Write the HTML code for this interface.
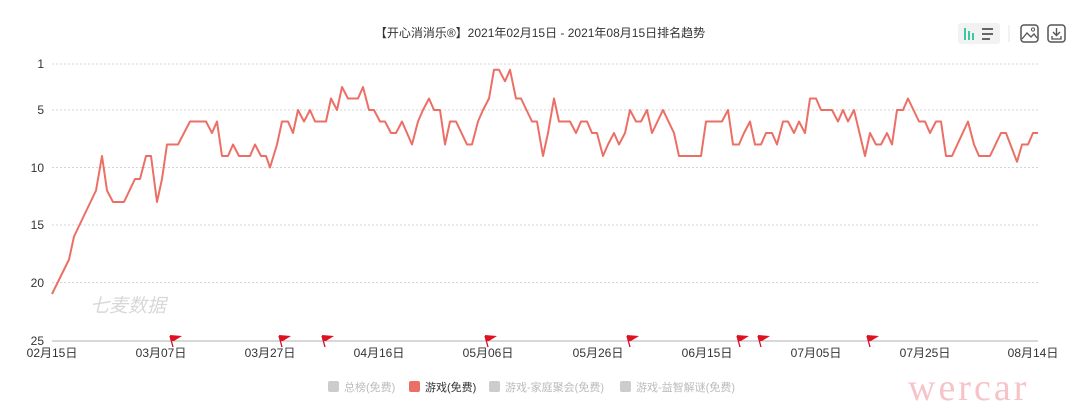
<!DOCTYPE html>
<html><head><meta charset="utf-8"><style>
body{margin:0;background:#fff;width:1080px;height:414px;overflow:hidden;font-family:"Liberation Sans","Noto Sans CJK SC",sans-serif}
</style></head><body>
<svg width="1080" height="414" xmlns="http://www.w3.org/2000/svg" font-family="Liberation Sans, Noto Sans CJK SC, sans-serif">
<text x="540" y="37" font-size="12" fill="#333" text-anchor="middle">【开心消消乐®】2021年02月15日 - 2021年08月15日排名趋势</text>
<rect x="958" y="23" width="42" height="21" rx="3" fill="#f2f2f2"/>
<rect x="964" y="28" width="2" height="12" fill="#3cc8a0"/><rect x="968" y="31" width="2" height="9" fill="#3cc8a0"/><rect x="972" y="33" width="2" height="7" fill="#3cc8a0"/>
<rect x="982" y="28" width="11" height="2" fill="#666"/><rect x="982" y="33" width="11" height="2" fill="#666"/><rect x="982" y="38" width="8" height="2" fill="#666"/>
<line x1="1009" y1="25" x2="1009" y2="42" stroke="#e4e4e4"/>
<rect x="1021" y="25" width="17" height="17" rx="3" fill="none" stroke="#555" stroke-width="1.5"/>
<polyline points="1022,39 1027,33 1031,37 1034,34 1037,38" fill="none" stroke="#555" stroke-width="1.3"/><circle cx="1033" cy="29.5" r="1.6" fill="none" stroke="#555"/>
<rect x="1048" y="25" width="17" height="17" rx="3" fill="none" stroke="#555" stroke-width="1.5"/>
<polyline points="1056.5,28 1056.5,35 M1053,32" fill="none" stroke="#555" stroke-width="1.4"/><polyline points="1053,32 1056.5,35.5 1060,32" fill="none" stroke="#555" stroke-width="1.4"/><polyline points="1052,36 1052,39 1061,39 1061,36" fill="none" stroke="#555" stroke-width="1.3"/>
<g stroke="#d4d4d4" stroke-dasharray="2,2" stroke-width="1">
<line x1="52" y1="64" x2="1038" y2="64"/><line x1="52" y1="110" x2="1038" y2="110"/><line x1="52" y1="167.5" x2="1038" y2="167.5"/><line x1="52" y1="225" x2="1038" y2="225"/><line x1="52" y1="282.5" x2="1038" y2="282.5"/>
</g>
<line x1="52" y1="341" x2="1038" y2="341" stroke="#ccc" stroke-width="1.5"/>
<g font-size="12" fill="#333" text-anchor="end">
<text x="44" y="68">1</text><text x="44" y="114">5</text><text x="44" y="172">10</text><text x="44" y="229">15</text><text x="44" y="287">20</text><text x="44" y="345">25</text>
</g>
<g font-size="12" fill="#333" text-anchor="middle">
<text x="52" y="357">02月15日</text><text x="161" y="357">03月07日</text><text x="270" y="357">03月27日</text><text x="379" y="357">04月16日</text><text x="488" y="357">05月06日</text><text x="598" y="357">05月26日</text><text x="707" y="357">06月15日</text><text x="816" y="357">07月05日</text><text x="925" y="357">07月25日</text><text x="1033" y="357">08月14日</text>
</g>
<text x="90" y="312" font-size="19" fill="#d8d8d8" font-style="italic">七麦数据</text>
<polyline id="ln" fill="none" stroke="#ec6f66" stroke-width="2" stroke-linejoin="round"/>
<g id="fl"></g>
<g font-size="11" fill="#bbb">
<rect x="328" y="381" width="11" height="11" rx="2" fill="#ccc"/><text x="344" y="391">总榜(免费)</text>
<rect x="409" y="381" width="11" height="11" rx="2" fill="#ec6f66"/><text x="425" y="391" fill="#333">游戏(免费)</text>
<rect x="489" y="381" width="11" height="11" rx="2" fill="#ccc"/><text x="505" y="391">游戏-家庭聚会(免费)</text>
<rect x="620" y="381" width="11" height="11" rx="2" fill="#ccc"/><text x="636" y="391">游戏-益智解谜(免费)</text>
</g>
<text x="908" y="400" font-size="38" fill="#f6c4c8" font-family="Liberation Serif, serif" letter-spacing="3">wercar</text>
</svg>
<script>
var d=[[52,21],[69,18],[74,16],[85,14],[96,12],[102,9],[107,12],[113,13],[124,13],[135,11],[140,11],[146,9],[151,9],[157,13],[162,11],[167,8],[178,8],[190,6],[206,6],[212,7],[217,6],[222,9],[228,9],[233,8],[239,9],[250,9],[255,8],[261,9],[266,9],[270,10],[277,8],[282,6],[288,6],[293,7],[298,5],[304,6],[310,5],[315,6],[326,6],[331,4],[337,5],[342,3],[348,4],[358,4],[363,3],[369,5],[374,5],[380,6],[385,6],[391,7],[396,7],[402,6],[412,8],[418,6],[423,5],[429,4],[434,5],[440,5],[445,8],[450,6],[456,6],[467,8],[472,8],[478,6],[483,5],[489,4],[494,1.5],[499,1.5],[505,2.5],[510,1.5],[516,4],[521,4],[532,6],[537,6],[543,9],[548,7],[554,4],[559,6],[570,6],[576,7],[581,6],[587,6],[592,7],[597,7],[603,9],[608,8],[614,7],[619,8],[625,7],[630,5],[636,6],[641,6],[647,5],[652,7],[663,5],[674,7],[679,9],[701,9],[706,6],[722,6],[728,5],[733,8],[739,8],[744,7],[750,6],[755,8],[761,8],[766,7],[772,7],[777,8],[783,6],[788,6],[794,7],[799,6],[805,7],[810,4],[816,4],[821,5],[832,5],[838,6],[843,5],[848,6],[854,5],[865,9],[870,7],[876,8],[881,8],[887,7],[892,8],[897,5],[903,5],[908,4],[919,6],[925,6],[930,7],[936,6],[941,6],[946,9],[952,9],[968,6],[974,8],[979,9],[990,9],[1001,7],[1006,7],[1017,9.5],[1022,8],[1028,8],[1033,7],[1038,7]];
document.getElementById('ln').setAttribute('points',d.map(function(p){return p[0]+','+(64+(p[1]-1)*11.5).toFixed(1)}).join(' '));
var f=[170,279,322,485,627,737,758,867],h='';
f.forEach(function(x){h+='<line x1="'+x+'" y1="336" x2="'+(x+3)+'" y2="347" stroke="#c8102e" stroke-width="1.3"/><polygon points="'+x+',335 '+(x+12)+',336 '+(x+4)+',341 '+(x+1)+',341" fill="#e0101e"/>';});
document.getElementById('fl').innerHTML=h;
</script>
</body></html>
